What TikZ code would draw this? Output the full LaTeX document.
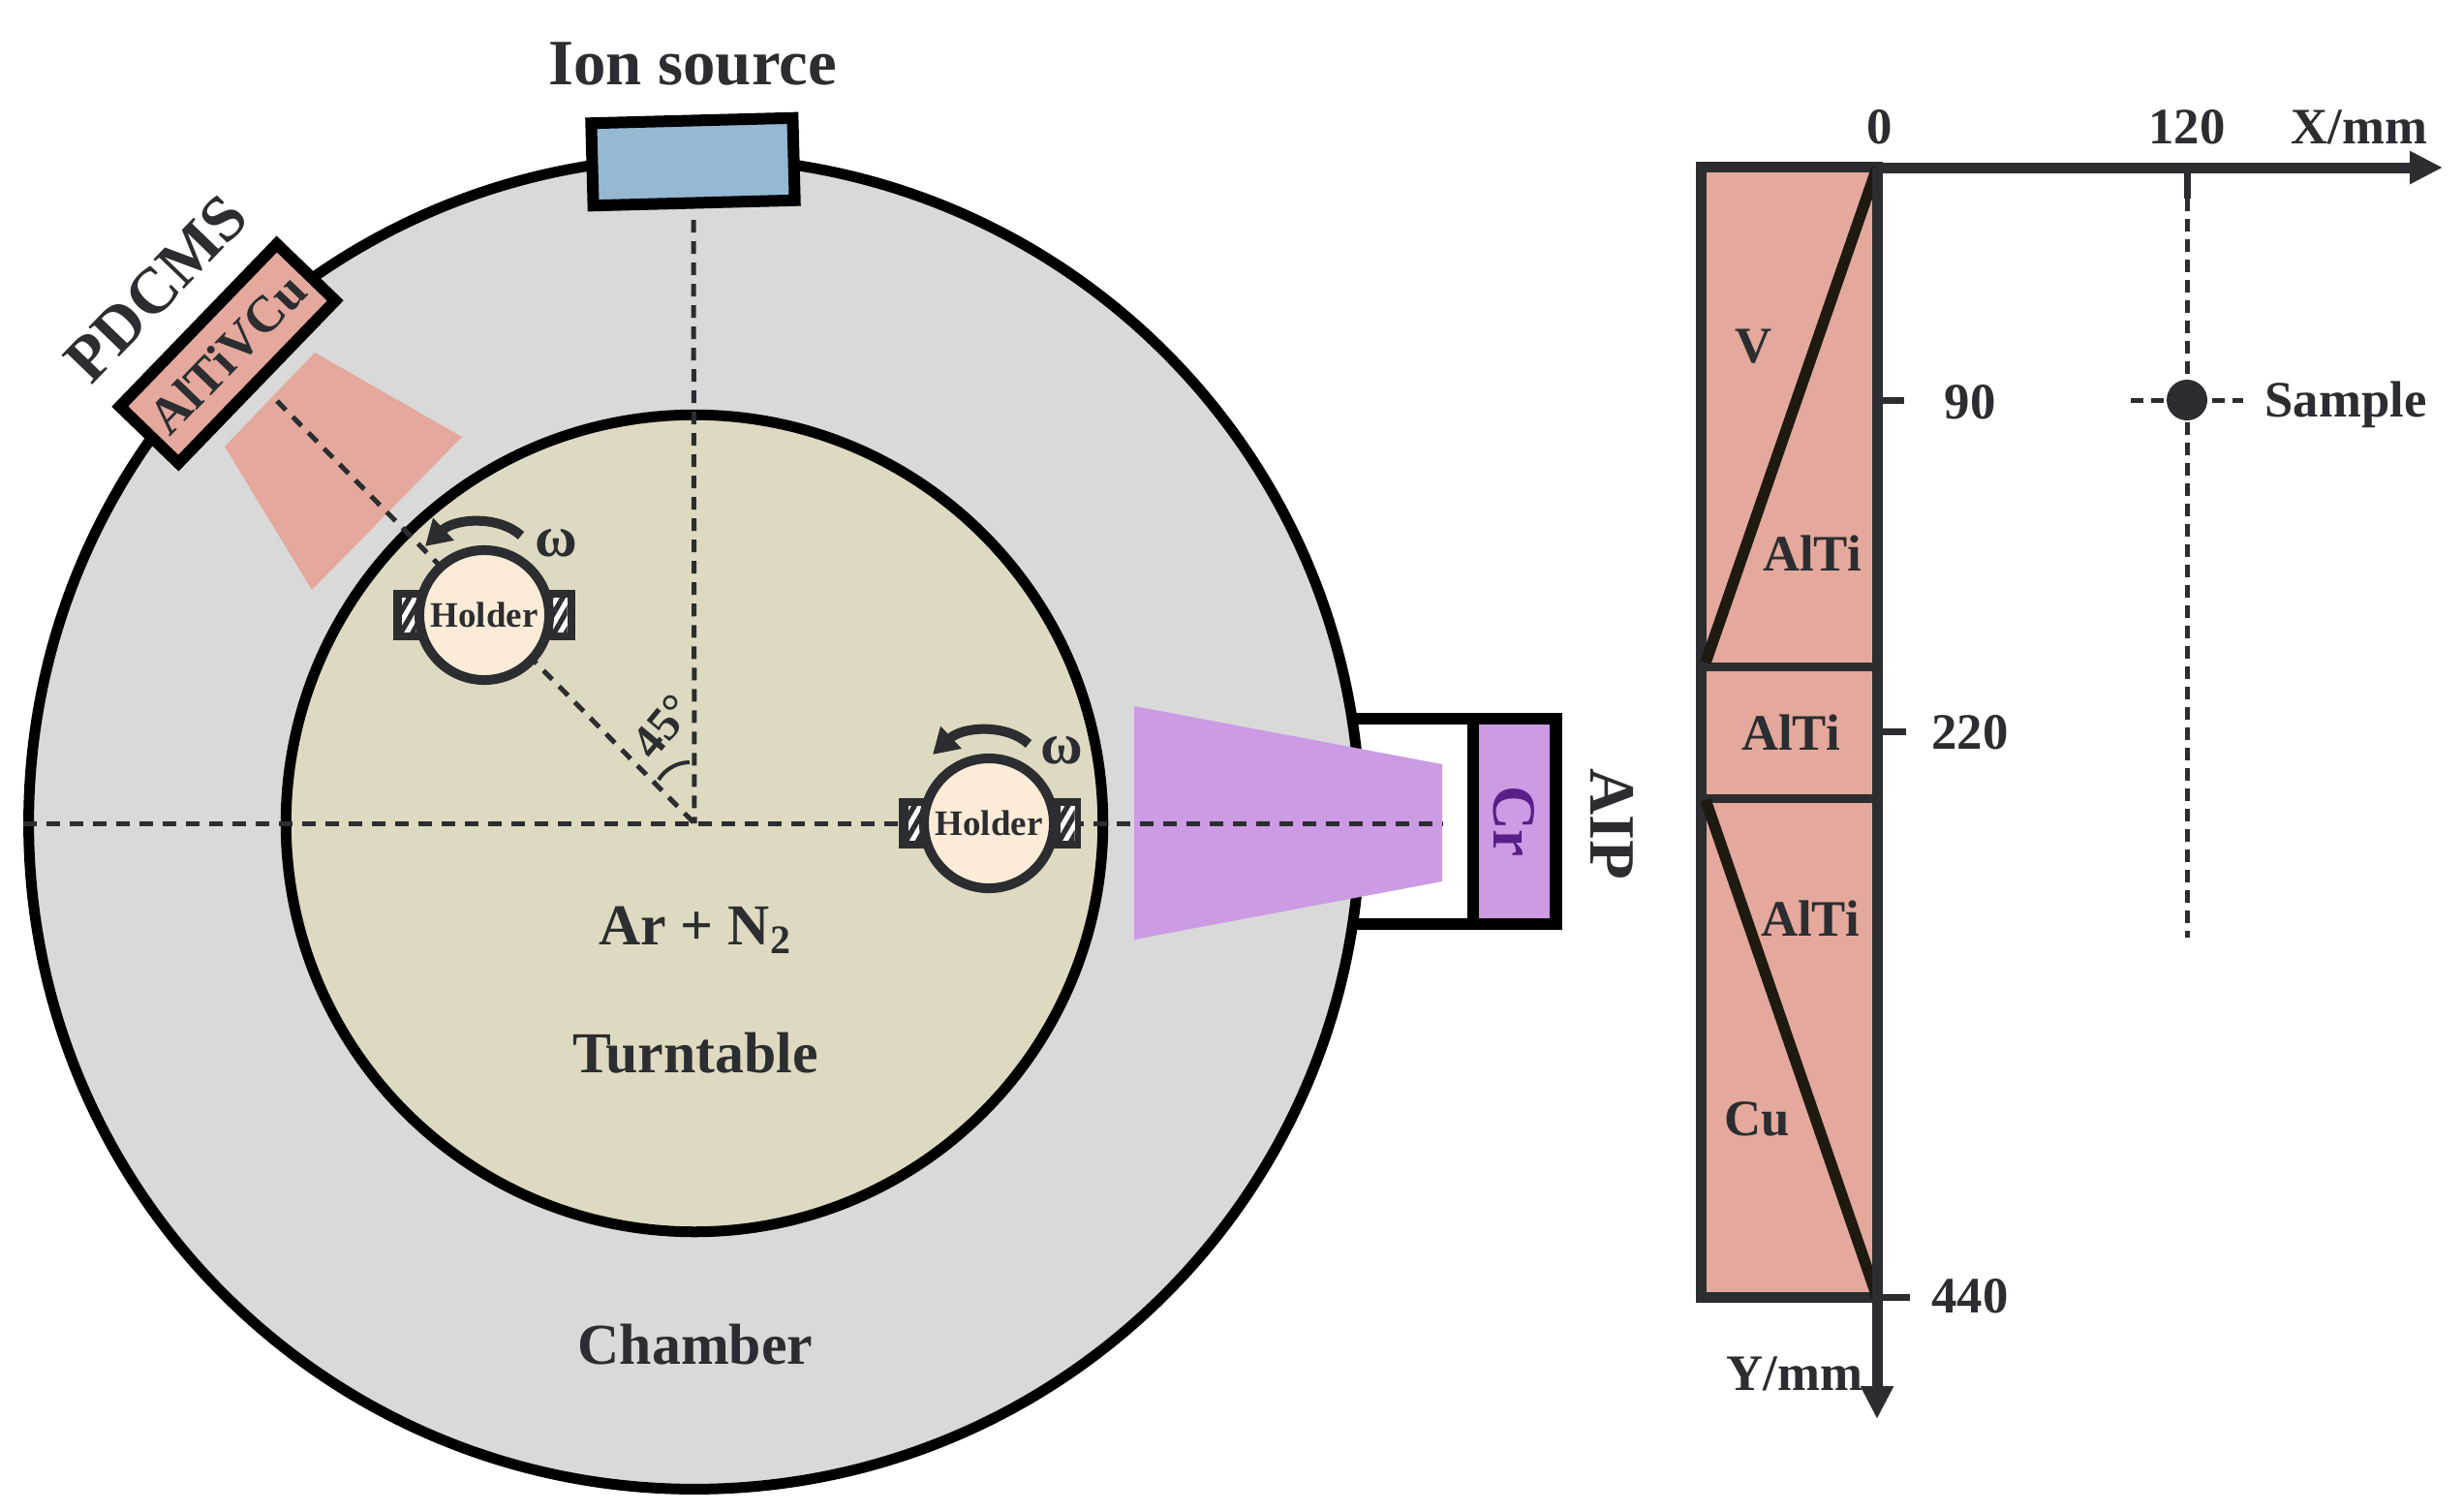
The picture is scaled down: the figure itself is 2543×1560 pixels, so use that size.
\documentclass[tikz,border=0pt]{standalone}
\usepackage{fontspec}
\setmainfont{Liberation Serif}
\usetikzlibrary{arrows.meta}
\usetikzlibrary{math}
\usetikzlibrary{patterns.meta}
\definecolor{chamberfill}{HTML}{D9D9D9}
\definecolor{tablefill}{HTML}{DEDAC1}
\definecolor{holderfill}{HTML}{FBEBD7}
\definecolor{salmonfill}{HTML}{E4A89C}
\definecolor{violetfill}{HTML}{CC9BE4}
\definecolor{ionfill}{HTML}{96B9D3}
\definecolor{darkline}{HTML}{2B2D30}
\definecolor{wedgeline}{HTML}{1E1A10}
\definecolor{crtext}{HTML}{5A1E88}
\tikzset{
    labeltext/.style={font=\bfseries\fontsize{15}{18}\selectfont,text=darkline,inner sep=0pt},
    bigtext/.style={font=\bfseries\fontsize{19}{22}\selectfont,text=darkline,inner sep=0pt},
    midtext/.style={font=\bfseries\fontsize{17}{20}\selectfont,text=darkline,inner sep=0pt},
    ring/.style={circle,draw=black,line width=0.11cm,inner sep=0pt},
    holder/.style={circle,draw=darkline,line width=0.1cm,fill=holderfill,minimum size=1.34cm,inner sep=0pt,text=darkline,font=\bfseries\fontsize{10.5}{12}\selectfont},
    clamp/.style={rectangle,fill=darkline,minimum width=1.87cm,minimum height=0.52cm,inner sep=0pt},
    hatchbox/.style={rectangle,fill=white,minimum width=0.15cm,minimum height=0.36cm,inner sep=0pt,postaction={pattern={Lines[angle=60,distance=3pt,line width=1.5pt]},pattern color=darkline}},
    target/.style={rectangle,draw=black,line width=0.12cm,inner sep=0pt},
    axisline/.style={draw=darkline,line width=0.11cm},
    axisarrow/.style={axisline,-{Triangle[length=0.34cm,width=0.32cm]}},
    dashline/.style={draw=darkline,line width=0.05cm,dash pattern=on 0.14cm off 0.1cm},
    turnarrow/.style={draw=darkline,line width=0.1cm,-{Triangle[length=0.26cm,width=0.3cm]}},
    wedge/.style={draw=wedgeline,line width=0.115cm},
    sepline/.style={draw=darkline,line width=0.09cm},
    tickline/.style={draw=darkline,line width=0.07cm},
    sampledash/.style={draw=darkline,line width=0.05cm,dash pattern=on 0.13cm off 0.08cm},
}
\begin{document}
\begin{tikzpicture}[x=0.01cm,y=-0.01cm]
    \tikzmath{  \xc = 717 ;
                \yc = 850 ;
                \xa = 1938 ;
                \xl = 1757 ;
                \xs = 2258 ;
                \ya = 173 ;
                \yn = 413 ;
                \yt = 755 ;
                \yf = 1339 ;
                }
    \useasboundingbox (0,0) rectangle (2543,1560);

    \node[target,fill=white,minimum width=2.27cm,minimum height=2.11cm] (aipbox) at (1493,848) {};
    \node[ring,fill=chamberfill,minimum size=13.74cm] (chamber) at (\xc,\yc) {};
    \node[ring,fill=tablefill,minimum size=8.43cm] (table) at (\xc,\yc) {};

    \fill[salmonfill] (325,364) -- (477,451) -- (322,609) -- (232,461) -- cycle;
    \fill[violetfill] (1171,729) -- (1489,789) -- (1489,910) -- (1171,970) -- cycle;
    \node[target,fill=violetfill,minimum width=0.85cm,minimum height=2.11cm,font=\bfseries\fontsize{18}{20}\selectfont,text=crtext] (cr) at (1563.5,848) {\rotatebox{-90}{Cr}};
    \node[target,fill=ionfill,minimum width=2.08cm,minimum height=0.85cm,rotate=1.5] (ion) at (715.5,167) {};
    \node[target,fill=salmonfill,minimum width=2.33cm,minimum height=0.84cm,rotate=46,font=\bfseries\fontsize{15}{17}\selectfont,text=darkline] (pdcms) at (235,365) {AlTiVCu};

    \coordinate (center) at (\xc,\yc);
    \coordinate (ionend) at (716,227);
    \coordinate (fanend) at (286,414);
    \coordinate (leftend) at (chamber.west);
    \coordinate (aipend) at (1489,\yc);
    \draw[dashline,dash pattern=on 0.13cm off 0.09cm] (ionend) -- (center);
    \draw[dashline,dash pattern=on 0.13cm off 0.1cm] (fanend) -- (center);
    \draw[dashline] (leftend) -- (aipend);

    \node[clamp] (clampa) at (500,635) {};
    \node[hatchbox] (hatchal) at (422,635) {};
    \node[hatchbox] (hatchar) at (578,635) {};
    \node[holder] (holdera) at (500,635) {Holder};
    \node[clamp] (clampb) at (1022,850) {};
    \node[hatchbox] (hatchbl) at (945,850) {};
    \node[hatchbox] (hatchbr) at (1102,850) {};
    \node[holder] (holderb) at (1021,850) {Holder};

    \coordinate (arrowas) at (538,553);
    \coordinate (arrowae) at (439,564);
    \coordinate (arrowbs) at (1062,768);
    \coordinate (arrowbe) at (963,779);
    \draw[turnarrow] (arrowas) .. controls (515,532) and (470,535) .. (arrowae);
    \draw[turnarrow] (arrowbs) .. controls (1039,747) and (994,750) .. (arrowbe);
    \node[midtext] (omegaa) at (574,561) {ω};
    \node[midtext] (omegab) at (1096,775) {ω};

    \coordinate (arcs) at (680,805);
    \coordinate (arce) at (712,787);
    \draw[darkline,line width=0.04cm] (arcs) .. controls (686,795) and (698,787) .. (arce);
    \node[font=\bfseries\fontsize{14}{16}\selectfont,text=darkline,rotate=50,inner sep=0pt] (angle) at (684,750) {45°};

    \node[bigtext] (ionlabel) at (715,66) {Ion source};
    \node[bigtext,rotate=46] (pdcmslabel) at (161,298) {PDCMS};
    \node[bigtext,rotate=-90] (aiplabel) at (1665,851) {AIP};
    \node[midtext] (gas) at (718,960) {Ar + N\textsubscript{2}};
    \node[midtext] (turntable) at (718,1087) {Turntable};
    \node[midtext] (chamberlabel) at (718,1388) {Chamber};

    \node[draw=darkline,line width=0.11cm,fill=salmonfill,minimum width=1.81cm,minimum height=11.66cm,inner sep=0pt] (strip) at (1847.5,756) {};
    \coordinate (stripa) at (\xl,688);
    \coordinate (stripb) at (\xl,824);
    \coordinate (stripc) at (\xa,688);
    \coordinate (stripd) at (\xa,824);
    \coordinate (origin) at (\xa,\ya);
    \coordinate (bottom) at (\xa,\yf);
    \draw[sepline] (stripa) -- (stripc);
    \draw[sepline] (stripb) -- (stripd);
    \draw[wedge] (origin) -- (1761,684);
    \draw[wedge] (1761,826) -- (bottom);

    \coordinate (xend) at (2522,\ya);
    \coordinate (yend) at (\xa,1465);
    \coordinate (ticka) at (1966,\yn);
    \coordinate (tickb) at (1968,\yt);
    \coordinate (tickc) at (1972,\yf);
    \coordinate (tickx) at (\xs,\ya);
    \coordinate (ticke) at (\xs,205);
    \coordinate (dashe) at (\xs,968);
    \coordinate (dashw) at (2200,\yn);
    \coordinate (dashr) at (2316,\yn);
    \draw[axisarrow] (origin) -- (xend);
    \draw[axisarrow] (origin) -- (yend);
    \draw[tickline] (\xa,\yn) -- (ticka);
    \draw[tickline] (\xa,\yt) -- (tickb);
    \draw[tickline] (\xa,\yf) -- (tickc);
    \draw[tickline] (tickx) -- (ticke);
    \draw[sampledash] (ticke) -- (dashe);
    \draw[sampledash] (dashw) -- (dashr);
    \node[circle,fill=darkline,minimum size=0.42cm,inner sep=0pt] (sample) at (\xs,\yn) {};

    \node[labeltext] (xzero) at (1941,131) {0};
    \node[labeltext] (xmid) at (2258,131) {120};
    \node[labeltext] (xname) at (2436,131) {X/mm};
    \node[labeltext] (ylow) at (2034,415) {90};
    \node[labeltext] (ymid) at (2034,756) {220};
    \node[labeltext] (yhigh) at (2034,1338) {440};
    \node[labeltext] (yname) at (1853,1418) {Y/mm};
    \node[labeltext] (samplelabel) at (2422,418) {Sample};
    \node[labeltext] (vlabel) at (1811,358) {V};
    \node[labeltext] (altia) at (1871,571) {AlTi};
    \node[labeltext] (altib) at (1849,756) {AlTi};
    \node[labeltext] (altic) at (1869,948) {AlTi};
    \node[labeltext] (culabel) at (1814,1155) {Cu};
\end{tikzpicture}
\end{document}
